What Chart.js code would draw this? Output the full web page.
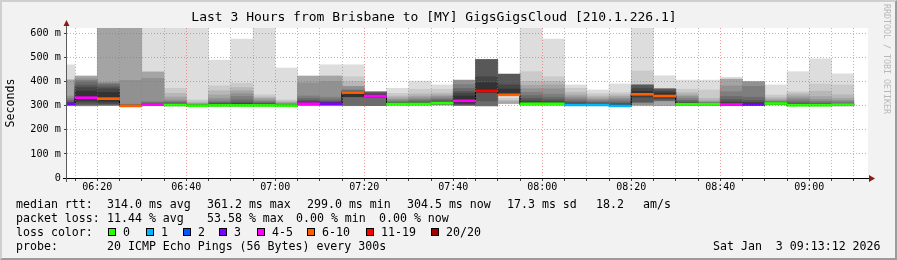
<!DOCTYPE html>
<html>
<head>
<meta charset="utf-8">
<title>Last 3 Hours from Brisbane to [MY] GigsGigsCloud</title>
<script src="https://cdn.jsdelivr.net/npm/chart.js@4.4.1/dist/chart.umd.min.js"></script>
<style>
  html, body { margin: 0; padding: 0; background: #f2f2f2; }
  #frame { position: absolute; left: 0; top: 0; width: 897px; height: 260px; box-sizing: border-box;
           border-top: 2px solid #cfcfcf; border-left: 2px solid #cfcfcf;
           border-right: 2px solid #9b9b9b; border-bottom: 2px solid #9b9b9b; background: #f2f2f2; }
  #chart { position: absolute; left: 0; top: 0; }
  .txt { position: absolute; font-family: 'DejaVu Sans Mono', monospace; font-size: 11.6px; line-height: 14px; white-space: pre; color: #000; }
  .box { position: absolute; top: 228px; width: 8px; height: 8px; box-sizing: border-box; border: 1px solid #000; }
  #mark { position: absolute; left: 882px; top: 4px; writing-mode: vertical-rl; font-family: 'DejaVu Sans Mono', monospace;
          font-size: 8.3px; line-height: 10px; color: #b8b8b8; white-space: pre; }
</style>
</head>
<body>
<div id="frame"></div>
<canvas id="chart" width="897" height="200"></canvas>

<div class="txt" style="left:16px;top:197px">median rtt:</div>
<div class="txt" style="left:107px;top:197px">314.0 ms avg</div>
<div class="txt" style="left:207px;top:197px">361.2 ms max</div>
<div class="txt" style="left:307px;top:197px">299.0 ms min</div>
<div class="txt" style="left:407px;top:197px">304.5 ms now</div>
<div class="txt" style="left:507px;top:197px">17.3 ms sd</div>
<div class="txt" style="left:596px;top:197px">18.2</div>
<div class="txt" style="left:643px;top:197px">am/s</div>

<div class="txt" style="left:16px;top:211px">packet loss:</div>
<div class="txt" style="left:107px;top:211px">11.44 % avg</div>
<div class="txt" style="left:207px;top:211px">53.58 % max</div>
<div class="txt" style="left:296px;top:211px">0.00 % min</div>
<div class="txt" style="left:379px;top:211px">0.00 % now</div>

<div class="txt" style="left:16px;top:225px">loss color:</div>
<div id="lossLegend"></div>

<div class="txt" style="left:16px;top:239px">probe:</div>
<div class="txt" style="left:107px;top:239px">20 ICMP Echo Pings (56 Bytes) every 300s</div>
<div class="txt" style="left:713px;top:239px">Sat Jan  3 09:13:12 2026</div>

<div id="mark">RRDTOOL / TOBI OETIKER</div>

<script>
const _ = null;

// rrd step end times, one step = 5 minutes
const slotEnd = ['06:15', '06:20', '06:25', '06:30', '06:35', '06:40', '06:45', '06:50', '06:55', '07:00',
                 '07:05', '07:10', '07:15', '07:20', '07:25', '07:30', '07:35', '07:40', '07:45', '07:50',
                 '07:55', '08:00', '08:05', '08:10', '08:15', '08:20', '08:25', '08:30', '08:35', '08:40',
                 '08:45', '08:50', '08:55', '09:00', '09:05', '09:10'];

// median rtt per step (ms)
const medianRtt = [307, 333, 329, 299, 305, 303, 300, 301, 301, 301, 300, 308, 308, 354, 340, 307, 307, 311,
                   320, 361, 345, 308, 308, 303, 303, 299, 347, 340, 306, 306, 305, 304, 309, 302, 302, 304];

// lost pings (of 20) per step
const lostPings = [3, 4, 6, 6, 4, 0, 0, 0, 0, 0, 0, 4, 3, 6, 4, 0, 0, 0,
                   4, 11, 6, 0, 0, 1, 1, 1, 6, 6, 0, 0, 4, 3, 0, 0, 0, 0];

// ping rtts per step (ms): smoke layer k spans row[k] .. row[19 - k], _ = no layer
const pings = [
  [299, _, _, 300, 301, 302, 303, 304, 305, 306, 309, 312, 316, 322, 330, 340, 407, _, _, 469],
  [_, _, _, 299, 300, 301, 303, 306, 315, 322, 360, 375, 385, 398, 405, 412, 423, _, _, _],
  [_, _, _, 300, 301, 302, 304, 306, 310, 318, 355, 370, 378, 388, 392, 397, 700, _, _, _],
  [_, _, _, 296, 296, 297, 297, 297, 298, 298, 300, 301, 302, 304, 306, 405, 700, _, _, _],
  [299, _, _, 300, 300, 301, 302, 302, 303, 304, 306, 308, 310, 312, 316, 413, 440, _, _, 650],
  [298, 299, 299, 300, 300, 301, 301, 302, 302, 303, 305, 307, 310, 313, 318, 324, 336, 351, 372, 660],
  [297, 298, 298, 298, 299, 299, 299, 299, 300, 300, 301, 302, 303, 304, 305, 307, 310, 315, 324, 650],
  [297, 298, 298, 299, 299, 300, 300, 300, 301, 301, 304, 306, 310, 314, 320, 330, 344, 362, 382, 489],
  [297, 298, 298, 299, 299, 300, 300, 300, 301, 301, 305, 309, 314, 324, 338, 350, 362, 375, 393, 576],
  [297, 298, 298, 299, 299, 300, 300, 300, 301, 301, 304, 306, 309, 313, 318, 324, 330, 336, 345, 660],
  [297, 298, 298, 298, 299, 299, 299, 300, 300, 300, 301, 302, 303, 305, 307, 310, 313, 318, 324, 456],
  [_, _, _, 300, 301, 302, 303, 304, 305, 306, 312, 316, 322, 330, 340, 394, 423, _, _, _],
  [299, _, _, 300, 301, 302, 303, 304, 305, 306, 311, 314, 318, 325, 335, 400, 423, _, _, 469],
  [299, 300, 300, _, 300, 300, 301, 336, 337, 338, 356, 358, 360, 362, 366, 380, _, 400, 420, 469],
  [_, _, _, _, _, _, 300, 334, 336, 338, 344, 348, 354, 358, _, _, _, _, _, _],
  [300, 301, 302, 303, 304, 304, 305, 305, 306, 306, 309, 311, 313, 316, 320, 326, 333, 340, 351, 372],
  [300, 301, 302, 303, 304, 304, 305, 305, 306, 306, 309, 311, 315, 320, 326, 333, 340, 349, 368, 402],
  [301, 302, 303, 304, 305, 306, 307, 308, 309, 310, 314, 316, 320, 325, 331, 338, 344, 352, 368, 386],
  [_, _, _, _, 300, 301, 302, 304, 308, 312, 340, 352, 360, 372, 388, 406, _, _, _, _],
  [_, _, _, _, _, _, 299, 320, 354, 356, 395, 420, 489, 492, _, _, _, _, _, _],
  [308, 308, 309, 310, _, _, _, 345, 346, 347, 369, 386, 431, _, _, _, 316, 322, 330, 342],
  [300, 301, 302, 303, 304, 305, 305, 306, 306, 307, 314, 320, 330, 342, 355, 370, 384, 400, 441, 640],
  [300, 301, 302, 303, 304, 305, 305, 306, 306, 307, 313, 318, 325, 335, 348, 370, 386, 400, 420, 576],
  [300, 301, 301, 302, 302, 303, 303, 304, 304, 305, 307, 310, 314, 320, 328, 336, 344, 355, 372, 386],
  [299, 300, 300, 301, 301, 302, 302, 303, 303, 304, 306, 308, 311, 315, 320, 326, 333, 340, 350, 365],
  [297, 298, 298, 299, 299, 300, 300, 301, 301, 302, 304, 306, 310, 316, 324, 331, 338, 345, 354, 390],
  [299, 300, _, _, 302, _, _, 314, 335, 340, 360, 372, 386, _, _, 386, _, _, 444, 700],
  [299, _, _, 300, _, _, 320, 326, 330, 334, 352, 360, 368, 370, _, _, 370, _, _, 424],
  [300, 301, 302, 302, 303, 303, 304, 304, 305, 305, 309, 312, 316, 322, 330, 338, 345, 354, 368, 406],
  [300, 301, 302, 302, 303, 303, 304, 304, 305, 305, 307, 308, 309, 311, 313, 316, 320, 330, 365, 406],
  [299, _, _, 300, 300, 301, 302, 302, 303, 303, 310, 315, 325, 338, 358, 382, 410, _, _, 418],
  [_, _, _, _, 300, 301, 302, 303, 303, 304, 310, 314, 322, 335, 380, 400, _, _, _, _],
  [302, 303, 304, 305, 305, 306, 306, 307, 307, 308, 311, 312, 313, 315, 317, 320, 326, 334, 344, 386],
  [298, 299, 299, 300, 300, 301, 301, 302, 302, 303, 304, 306, 310, 316, 324, 332, 341, 350, 358, 441],
  [298, 299, 299, 300, 300, 301, 301, 302, 302, 303, 304, 306, 308, 312, 318, 326, 338, 360, 390, 494],
  [298, 299, 299, 300, 300, 301, 301, 302, 302, 303, 304, 306, 308, 311, 316, 322, 331, 345, 386, 432],
];

// loss colour legend
const lossBins = ['0', '1', '2', '3', '4-5', '6-10', '11-19', '20/20'];
const lossUpper = [0, 1, 2, 3, 5, 10, 19, 20];
const lossColors = ['#26ff00', '#00b8ff', '#0059ff', '#7e00ff', '#ff00ff', '#ff5e00', '#ff0000', '#a10000'];

// axes
const windowStart = '06:13:12';
const windowEnd = '09:13:12';
const xTickLabels = ['06:20', '06:40', '07:00', '07:20', '07:40', '08:00', '08:20', '08:40', '09:00'];
const yTickLabels = ['0', '100 m', '200 m', '300 m', '400 m', '500 m', '600 m'];
const Y_MAX = 622;

const STEP = 5;
const toMin = s => { const p = s.split(':').map(Number); return p[0] * 60 + p[1] + (p[2] || 0) / 60; };
const fmtMin = v => String(Math.floor(v / 60)).padStart(2, '0') + ':' + String(Math.round(v % 60)).padStart(2, '0');
const lossColor = n => lossColors[lossUpper.findIndex(u => n <= u)];

const X0 = toMin(windowStart), X1 = toMin(windowEnd);
const centers = slotEnd.map(t => toMin(t) - STEP / 2);

// loss legend boxes
const boxLeft = [108, 146, 183, 219, 257, 307, 366, 431];
document.getElementById('lossLegend').innerHTML = lossBins.map((b, i) =>
  `<span class="box" style="left:${boxLeft[i]}px;background:${lossColors[i]}"></span>` +
  `<span class="txt" style="left:${boxLeft[i] + 15}px;top:225px">${b}</span>`).join('');

// smokeping grey levels, outermost layer lightest
const smokeGray = Array.from({ length: 10 }, (v, i) => {
  const c = Math.floor(190 / 10 * (10 - (i + 1))) + 50;
  return `rgb(${c},${c},${c})`;
});

const barCommon = { type: 'bar', grouped: false, barPercentage: 1, categoryPercentage: 1, borderWidth: 0, clip: 0 };

const smokeSets = smokeGray.map((col, i) => ({
  ...barCommon,
  data: pings.map((row, s) => (row[i] == null || row[19 - i] == null) ? null
    : { x: centers[s], y: [row[i], row[19 - i]] }).filter(Boolean),
  backgroundColor: col,
  order: 11 - i,
}));

const sw = Y_MAX / 150; // one pixel in ms
const medianBand = {
  ...barCommon,
  data: medianRtt.map((m, s) => ({ x: centers[s], y: [m - sw, m + sw] })),
  backgroundColor: lostPings.map(lossColor),
  order: 0,
};
const medianLine = {
  type: 'line',
  data: medianRtt.map((m, s) => ({ x: centers[s], y: m })),
  stepped: 'middle',
  borderColor: '#000',
  borderWidth: 1,
  pointRadius: 0,
  order: 1,
};

const MAJOR = 'rgba(235,70,70,0.55)';
const MINOR = 'rgba(130,130,130,0.55)';

const frame = {
  id: 'frame',
  beforeDatasetsDraw(chart) {
    const { ctx, chartArea: a } = chart;
    ctx.save();
    ctx.fillStyle = '#fff';
    ctx.fillRect(a.left, a.top, a.right - a.left, a.bottom - a.top);
    ctx.restore();
  },
  afterDraw(chart) {
    const { ctx, chartArea: a } = chart;
    ctx.save();
    ctx.lineWidth = 1;
    ctx.strokeStyle = '#000';
    ctx.beginPath(); ctx.moveTo(a.left - 4, a.bottom + 0.5); ctx.lineTo(a.right + 4, a.bottom + 0.5); ctx.stroke();
    ctx.strokeStyle = '#5a5a5a';
    ctx.beginPath(); ctx.moveTo(a.left - 0.5, a.bottom + 4); ctx.lineTo(a.left - 0.5, a.top - 4); ctx.stroke();
    ctx.fillStyle = '#8b1a1a';
    ctx.beginPath(); ctx.moveTo(a.right + 1, a.bottom - 3); ctx.lineTo(a.right + 7, a.bottom + 0.5); ctx.lineTo(a.right + 1, a.bottom + 4); ctx.closePath(); ctx.fill();
    ctx.beginPath(); ctx.moveTo(a.left - 3.5, a.top - 2); ctx.lineTo(a.left - 0.5, a.top - 8); ctx.lineTo(a.left + 2.5, a.top - 2); ctx.closePath(); ctx.fill();
    ctx.restore();
  },
};

Chart.defaults.font.family = "'DejaVu Sans Mono', monospace";
Chart.defaults.color = '#000';

new Chart(document.getElementById('chart'), {
  type: 'bar',
  data: { datasets: [medianBand, medianLine, ...smokeSets] },
  options: {
    responsive: false,
    animation: false,
    events: [],
    layout: { padding: { top: 0, right: 29, bottom: 0, left: 0 } },
    plugins: {
      legend: { display: false },
      tooltip: { enabled: false },
      title: {
        display: true,
        text: 'Last 3 Hours from Brisbane to [MY] GigsGigsCloud [210.1.226.1]',
        color: '#000',
        font: { size: 13, weight: 'normal' },
        padding: { top: 10, bottom: 2.4 },
      },
    },
    scales: {
      x: {
        type: 'linear',
        min: X0,
        max: X1,
        offset: false,
        afterBuildTicks: s => {
          const t = [];
          for (let v = Math.ceil(X0 / STEP) * STEP; v <= X1; v += STEP) t.push({ value: v });
          s.ticks = t;
        },
        afterFit: s => { s.height = 22; },
        ticks: {
          autoSkip: false, maxRotation: 0, padding: 0,
          font: { size: 10 },
          callback: v => xTickLabels.includes(fmtMin(v)) ? fmtMin(v) : '',
        },
        grid: {
          z: 1, offset: false, lineWidth: 1,
          color: c => xTickLabels.includes(fmtMin(c.tick.value)) ? MAJOR : MINOR,
          tickLength: 3, tickColor: '#444',
        },
        border: { display: false, dash: [1, 2] },
      },
      y: {
        min: 0,
        max: Y_MAX,
        afterBuildTicks: s => {
          const t = [];
          for (let v = 0; v <= 600; v += 50) t.push({ value: v });
          s.ticks = t;
        },
        afterFit: s => { s.width = 67; },
        ticks: {
          padding: 3,
          font: { size: 10.2 },
          callback: v => v % 100 === 0 ? yTickLabels[v / 100] : '',
        },
        grid: {
          z: 1, lineWidth: 1,
          color: c => c.tick.value % 100 === 0 ? MAJOR : MINOR,
          tickLength: 3, tickColor: '#444',
        },
        border: { display: false, dash: [1, 2] },
        title: { display: true, text: 'Seconds', color: '#000', font: { size: 11.6 }, padding: { top: 4, bottom: 0 } },
      },
    },
  },
  plugins: [frame],
});
</script>
</body>
</html>
